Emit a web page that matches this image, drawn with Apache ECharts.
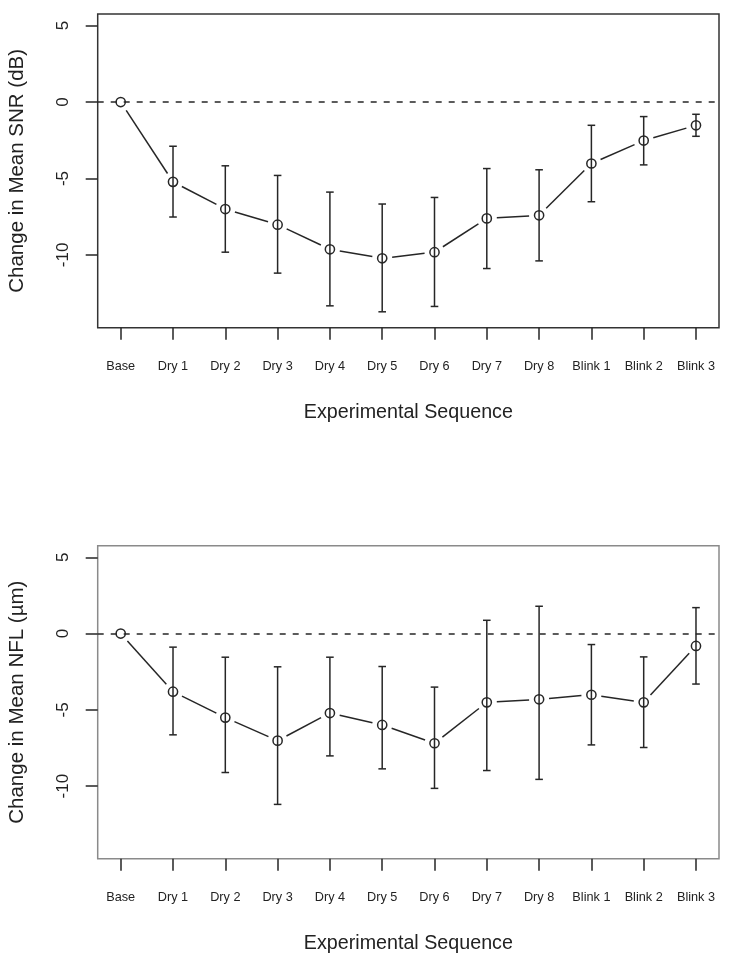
<!DOCTYPE html>
<html><head><meta charset="utf-8">
<script src="https://cdn.jsdelivr.net/npm/echarts@6/dist/echarts.min.js"></script>
<style>html,body{margin:0;padding:0;background:#fff}#c{width:732px;height:963px}</style>
</head><body><div id="c"></div>
<script>
// ---- data ----
const categories = ['Base','Dry 1','Dry 2','Dry 3','Dry 4','Dry 5','Dry 6','Dry 7','Dry 8','Blink 1','Blink 2','Blink 3'];
const yTickValues = [-10, -5, 0, 5];

const snrMean  = [0, -5.22, -7.00, -8.02, -9.63, -10.22, -9.82, -7.61, -7.41, -4.02, -2.52, -1.52];
const snrUpper = [0, -2.89, -4.17, -4.80, -5.89,  -6.67, -6.24, -4.35, -4.43, -1.52, -0.95, -0.80];
const snrLower = [0, -7.52, -9.82, -11.19, -13.33, -13.72, -13.37, -10.89, -10.39, -6.52, -4.11, -2.24];

const nflMean  = [0, -3.81, -5.51, -7.02, -5.21, -5.99, -7.19, -4.51, -4.31, -4.01, -4.51, -0.81];
const nflUpper = [0, -0.89, -1.55, -2.18, -1.55, -2.16, -3.51,  0.87,  1.79, -0.72, -1.53,  1.70];
const nflLower = [0, -6.64, -9.11, -11.20, -8.02, -8.87, -10.15, -8.98, -9.56, -7.30, -7.47, -3.31];

// ---- chart ----
const FONT = '"Liberation Sans", Arial, Helvetica, sans-serif';
const INK = '#262626';
const tickPositions = categories.map((c, i) => i + 1);

function makeRender(mean) {
  return function (params, api) {
    const x = api.value(0), m = api.value(1), lo = api.value(2), hi = api.value(3);
    const p = api.coord([x, m]);
    const children = [];
    const r = 4.6, cap = 3.8, gap = 10;
    const st = {stroke: INK, lineWidth: 1.5, fill: null};
    if (hi !== lo) {
      const pl = api.coord([x, lo]), ph = api.coord([x, hi]);
      children.push({type: 'line', shape: {x1: p[0], y1: ph[1], x2: p[0], y2: pl[1]}, style: st});
      children.push({type: 'line', shape: {x1: p[0] - cap, y1: ph[1], x2: p[0] + cap, y2: ph[1]}, style: st});
      children.push({type: 'line', shape: {x1: p[0] - cap, y1: pl[1], x2: p[0] + cap, y2: pl[1]}, style: st});
    }
    children.push({type: 'circle', shape: {cx: p[0], cy: p[1], r: r}, style: {stroke: INK, lineWidth: 1.5, fill: null}});
    const idx = params.dataIndex;
    if (idx + 1 < mean.length) {
      const q = api.coord([x + 1, mean[idx + 1]]);
      const dx = q[0] - p[0], dy = q[1] - p[1], L = Math.hypot(dx, dy);
      if (L > 2 * gap) {
        const ux = dx / L, uy = dy / L;
        children.push({type: 'line', shape: {x1: p[0] + ux * gap, y1: p[1] + uy * gap, x2: q[0] - ux * gap, y2: q[1] - uy * gap}, style: st});
      }
    }
    return {type: 'group', children: children};
  };
}

function xAxisCfg(gi) {
  return {
    gridIndex: gi, type: 'value', min: 0.56, max: 12.44,
    axisLine: {show: false, onZero: false}, splitLine: {show: false},
    axisTick: {show: true, inside: false, length: 12, customValues: tickPositions, lineStyle: {color: INK, width: 1.5}},
    axisLabel: {customValues: tickPositions, formatter: v => categories[Math.round(v) - 1], fontSize: 12.7, fontFamily: FONT, color: '#222', margin: 32},
    name: 'Experimental Sequence', nameLocation: 'middle', nameGap: 74.5,
    nameTextStyle: {fontSize: 19.7, fontFamily: FONT, color: '#222'}
  };
}
function yAxisCfg(gi, title) {
  return {
    gridIndex: gi, type: 'value', min: -14.76, max: 5.76,
    axisLine: {show: false, onZero: false}, splitLine: {show: false},
    axisTick: {show: true, inside: false, length: 12, customValues: yTickValues, lineStyle: {color: INK, width: 1.5}},
    axisLabel: {customValues: yTickValues, rotate: 90, fontSize: 17, fontFamily: FONT, color: '#222', margin: 26},
    name: title, nameLocation: 'middle', nameRotate: 90, nameGap: 70,
    nameTextStyle: {fontSize: 20.5, fontFamily: FONT, color: '#222'}
  };
}
function seriesCfg(gi, mean, lo, hi) {
  return {
    type: 'custom', xAxisIndex: gi, yAxisIndex: gi,
    data: mean.map((m, i) => [i + 1, m, lo[i], hi[i]]),
    renderItem: makeRender(mean),
    silent: true, clip: false,
    markLine: {
      silent: true, symbol: 'none', label: {show: false},
      lineStyle: {color: INK, width: 1.5, type: [6, 7]},
      data: [{yAxis: 0}]
    }
  };
}

const chart = echarts.init(document.getElementById('c'));
chart.setOption({
  animation: false,
  backgroundColor: '#fff',
  grid: [
    {left: 97.7, top: 14, width: 621.3, height: 313.7, show: true, borderColor: '#333', borderWidth: 1.5, outerBoundsMode: 'none'},
    {left: 97.7, top: 545.7, width: 621.3, height: 313, show: true, borderColor: '#8a8a8a', borderWidth: 1.5, outerBoundsMode: 'none'}
  ],
  xAxis: [xAxisCfg(0), xAxisCfg(1)],
  yAxis: [yAxisCfg(0, 'Change in Mean SNR (dB)'), yAxisCfg(1, 'Change in Mean NFL (µm)')],
  series: [seriesCfg(0, snrMean, snrLower, snrUpper), seriesCfg(1, nflMean, nflLower, nflUpper)]
});
</script>
</body></html>
